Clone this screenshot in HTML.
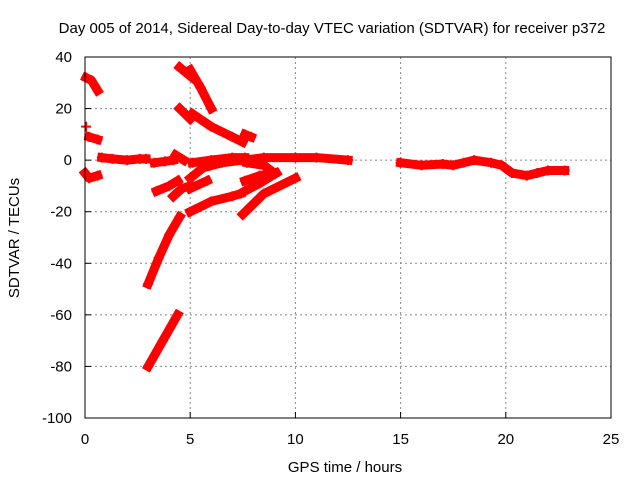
<!DOCTYPE html>
<html><head><meta charset="utf-8"><style>
body{margin:0;background:#fff}
svg{display:block;font-family:"Liberation Sans",sans-serif}
</style></head><body>
<svg id="chart" width="640" height="480">
<text x="332" y="33" font-size="15" text-anchor="middle">Day 005 of 2014, Sidereal Day-to-day VTEC variation (SDTVAR) for receiver p372</text>
<text x="345" y="472" font-size="15" text-anchor="middle">GPS time / hours</text>
<text transform="translate(19,238) rotate(-90)" font-size="15" text-anchor="middle">SDTVAR / TECUs</text>
<g id="grid"></g>
<g id="ticks"></g>
<g id="series"></g>
<rect x="85" y="57" width="526" height="361" fill="none" stroke="#000" stroke-width="1"/>
</svg>
<script>
const xTicks=[0,5,10,15,20,25];
const yTicks=[40,20,0,-20,-40,-60,-80,-100];
const track1=[[0.05,32],[0.3,31],[0.6,27]];
const track2=[[0.05,13]];
const track3=[[0.2,9],[0.6,8]];
const track4=[[0.0,-5],[0.2,-7],[0.6,-6]];
const track5=[[0.8,1],[1.3,0.5],[2.0,0],[2.6,0.5],[2.9,0.5]];
const track6=[[3.3,-1],[3.8,-0.5],[4.2,0]];
const track7=[[4.3,2],[4.7,0]];
const track8=[[4.5,36],[5.1,32]];
const track9=[[5.0,35],[5.5,28],[6.0,20]];
const track10=[[4.5,20],[5.0,16]];
const track11=[[5.1,18],[6.0,13],[7.0,9],[7.5,7]];
const track12=[[7.6,10],[7.9,9]];
const track13=[[5.1,-1],[6.0,0],[7.0,1],[7.6,1]];
const track14=[[7.6,0],[8.5,1],[10,1],[11,1],[12.5,0]];
const track15=[[3.4,-12],[4.0,-10],[4.4,-8]];
const track16=[[4.2,-14],[4.6,-11],[5.0,-10]];
const track17=[[5.0,-11],[5.8,-8]];
const track18=[[5.0,-7],[5.6,-3],[6.5,-1],[7.5,0]];
const track19=[[5.0,-20],[6.0,-16],[7.0,-14],[7.4,-13]];
const track20=[[7.6,-12],[8.3,-9],[9.1,-5]];
const track21=[[7.6,-8],[8.3,-6],[9.0,-5]];
const track22=[[7.7,-1],[8.5,-2],[9.0,-5]];
const track23=[[7.5,-21],[8.5,-13],[10.0,-7]];
const track24=[[3.0,-48],[3.5,-38],[4.0,-29],[4.5,-22]];
const track25=[[3.0,-80],[3.7,-70],[4.4,-60]];
const track26=[[15,-1],[16,-2],[17,-1.5],[17.5,-2],[18,-1],[18.5,0],[19.3,-1],[19.8,-2],[20.3,-5],[21,-6],[21.5,-5],[22,-4],[22.8,-4]];
const tracks=[track1,track2,track3,track4,track5,track6,track7,track8,track9,track10,track11,track12,track13,track14,track15,track16,track17,track18,track19,track20,track21,track22,track23,track24,track25,track26];
const X=t=>85+t*526/25, Y=v=>57+(40-v)*361/140;
const NS="http://www.w3.org/2000/svg";
function mk(tag,attrs,parent){const e=document.createElementNS(NS,tag);for(const k in attrs)e.setAttribute(k,attrs[k]);parent.appendChild(e);return e;}
const grid=document.getElementById('grid'),ticks=document.getElementById('ticks'),ser=document.getElementById('series');
xTicks.forEach(t=>{
 if(t>0&&t<25){const l=mk('line',{x1:X(t),x2:X(t),y1:57,y2:418,stroke:'#888','stroke-dasharray':'2,3'},grid);
 
 }
 const tk=mk('line',{x1:X(t),x2:X(t),y1:418,y2:412,stroke:'#000'},ticks);
 
 
 const tx=mk('text',{x:X(t),y:444,'font-size':15,'text-anchor':'middle'},ticks);tx.textContent=t;
 
 
});
yTicks.forEach(v=>{
 if(v<40&&v>-100){const l=mk('line',{x1:85,x2:611,y1:Y(v),y2:Y(v),stroke:'#888','stroke-dasharray':'2,3'},grid);
 
 }
 const tk=mk('line',{x1:85,x2:91,y1:Y(v),y2:Y(v),stroke:'#000'},ticks);
 
 
 const tx=mk('text',{x:72,y:Y(v)+5,'font-size':15,'text-anchor':'end'},ticks);tx.textContent=v;
 
 
});
tracks.forEach((tr,i)=>{
 const g=mk('g',{},ser);
 
 
 if(tr.length>1){mk('polyline',{points:tr.map(p=>X(p[0])+','+Y(p[1])).join(' '),fill:'none',stroke:'#f00','stroke-width':9,'stroke-linecap':'square','stroke-linejoin':'round'},g);}
 tr.forEach(p=>{const x=X(p[0]),y=Y(p[1]);
  mk('path',{d:`M${x-5} ${y}H${x+5}M${x} ${y-5}V${y+5}`,stroke:'#f00','stroke-width':2},g);});
});
</script>
</body></html>
